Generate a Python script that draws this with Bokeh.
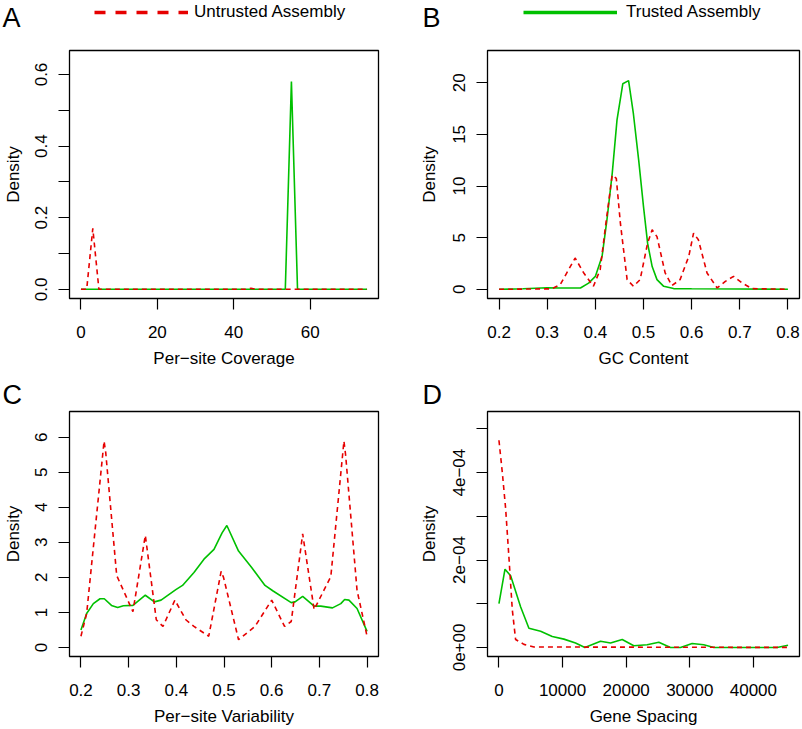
from bokeh.plotting import figure
from bokeh.models import Label, Legend, LegendItem, FixedTicker, PrintfTickFormatter, Range1d
from bokeh.layouts import row, column
from bokeh.embed import file_html
from bokeh.resources import INLINE

RED = "#E60000"
GREEN = "#00C000"
FONT = "Liberation Sans"
DASH = "5 4"
LW = 1.6

# ---------------- data ----------------
# A: Per-site Coverage
cov_x_trusted = [0, 53.5, 55.1, 56.7, 74.9]
cov_y_trusted = [0, 0, 0.58, 0, 0]
cov_x_untrusted = [0, 1.5, 3.1, 4.7, 43.0, 44.5, 46.0, 74.9]
cov_y_untrusted = [0, 0, 0.17, 0, 0, 0.003, 0, 0]

# B: GC Content
gc_x_trusted = [0.2, 0.25, 0.3, 0.327, 0.369, 0.386, 0.4, 0.414, 0.424, 0.435, 0.445, 0.457,
                0.469, 0.479, 0.49, 0.5, 0.5085, 0.518, 0.528, 0.542, 0.5625, 0.6, 0.7, 0.8]
gc_y_trusted = [0, 0.05, 0.15, 0.13, 0.13, 0.6, 1.25, 3.2, 6.7, 11.2, 16.4, 19.9,
                20.2, 17.0, 12.5, 8.0, 4.47, 2.2, 0.94, 0.29, 0.07, 0.05, 0.03, 0.0]
gc_x_untrusted = [0.2, 0.31, 0.327, 0.358, 0.376, 0.396, 0.41, 0.421, 0.435, 0.4435, 0.452, 0.466,
                  0.479, 0.493, 0.5085, 0.518, 0.528, 0.545, 0.559, 0.576, 0.594, 0.604, 0.614,
                  0.632, 0.653, 0.67, 0.687, 0.7045, 0.725, 0.8]
gc_y_untrusted = [0, 0.05, 0.45, 3.03, 1.58, 0.29, 1.9, 6.07, 11.06, 10.74, 6.4, 0.94,
                  0.29, 0.94, 4.47, 5.76, 5.1, 1.58, 0.36, 0.94, 3.18, 5.44, 4.79,
                  1.58, 0.13, 0.77, 1.25, 0.62, 0.07, 0.0]

# C: Per-site Variability
var_x_trusted = [0.2, 0.212, 0.226, 0.24, 0.249, 0.264, 0.277, 0.289, 0.309, 0.335, 0.354, 0.368,
                 0.399, 0.413, 0.437, 0.458, 0.479, 0.496, 0.506, 0.5305, 0.558, 0.586, 0.603,
                 0.641, 0.649, 0.665, 0.689, 0.703, 0.7275, 0.745, 0.753, 0.762, 0.779, 0.8]
var_y_trusted = [0.5, 0.97, 1.25, 1.39, 1.39, 1.2, 1.14, 1.19, 1.2, 1.49, 1.3, 1.35,
                 1.65, 1.77, 2.14, 2.52, 2.8, 3.27, 3.48, 2.75, 2.28, 1.77, 1.61,
                 1.28, 1.3, 1.46, 1.18, 1.18, 1.13, 1.25, 1.37, 1.35, 1.11, 0.46]
var_x_untrusted = [0.2, 0.212, 0.2485, 0.252, 0.275, 0.289, 0.309, 0.335, 0.358, 0.372, 0.397,
                   0.42, 0.437, 0.468, 0.494, 0.499, 0.5305, 0.565, 0.6, 0.627, 0.641, 0.665,
                   0.689, 0.724, 0.7515, 0.755, 0.779, 0.8]
var_y_untrusted = [0.32, 0.97, 5.89, 5.56, 2.05, 1.63, 1.02, 3.2, 0.79, 0.6, 1.35,
                   0.79, 0.6, 0.32, 2.17, 2.0, 0.22, 0.6, 1.35, 0.6, 0.74, 3.24,
                   1.08, 2.02, 5.89, 5.5, 1.63, 0.32]

# D: Gene Spacing (density in 1e-4 units)
gs_x_trusted = [0, 950, 1840, 3400, 4710, 6550, 8380, 10210, 12040, 13510, 15970, 17540,
                19380, 21200, 23300, 25130, 26970, 28540, 30370, 32200, 33770, 43720, 45450]
gs_y_trusted_e4 = [1.0, 1.79, 1.64, 0.93, 0.44, 0.37, 0.25, 0.19, 0.1, 0.0, 0.14, 0.1,
                   0.18, 0.04, 0.06, 0.12, 0.0, 0.0, 0.09, 0.06, 0.0, 0.0, 0.05]
gs_x_untrusted = [0, 530, 1050, 1570, 2100, 2620, 3930, 5500, 45450]
gs_y_untrusted_e4 = [4.74, 4.0, 3.18, 2.06, 0.86, 0.18, 0.07, 0.01, 0.0]

# tick values
ticks_cov_x = [0, 20, 40, 60]
ticks_cov_y = [0, 0.2, 0.4, 0.6]
minor_cov_y = [0.1, 0.3, 0.5]
ticks_frac_x = [0.2, 0.3, 0.4, 0.5, 0.6, 0.7, 0.8]
ticks_gc_y = [0, 5, 10, 15, 20]
ticks_var_y = [0, 1, 2, 3, 4, 5, 6]
ticks_gs_x = [0, 10000, 20000, 30000, 40000]
ticks_gs_y = [0, 2e-4, 4e-4]
minor_gs_y = [1e-4, 3e-4, 5e-4]
labels_gs_y = {0: "0e+00", 2e-4: "2e\u221204", 4e-4: "4e\u221204"}

TOTAL_W = 801
LEFT_W, RIGHT_W = 400, 401
TOP_HDR_H, ROW1_H, MID_HDR_H, ROW2_H = 49, 321, 40, 318


def make_fig(width, height, bl, br, bt, bb, xr, yr, xlabel, s2y):
    p = figure(width=width, height=height, x_range=Range1d(*xr), y_range=Range1d(*yr),
               output_backend="svg", toolbar_location=None,
               min_border_left=bl, min_border_right=br, min_border_top=bt, min_border_bottom=bb)
    p.xgrid.visible = False
    p.ygrid.visible = False
    p.outline_line_color = "black"
    p.outline_line_width = 1.3
    p.outline_line_alpha = 1
    p.background_fill_color = "white"
    p.border_fill_color = "white"
    for ax in (p.xaxis[0], p.yaxis[0]):
        ax.axis_line_color = None
        ax.major_tick_out = 11
        ax.major_tick_in = 0
        ax.minor_tick_out = 11
        ax.minor_tick_in = 0
        ax.major_tick_line_color = "black"
        ax.minor_tick_line_color = "black"
        ax.major_tick_line_width = 1.2
        ax.minor_tick_line_width = 1.2
        ax.major_label_text_font = FONT
        ax.major_label_text_font_size = "17px"
        ax.major_label_text_color = "black"
        ax.axis_label_text_font = FONT
        ax.axis_label_text_font_size = "17px"
        ax.axis_label_text_font_style = "normal"
        ax.axis_label_text_color = "black"
    p.xaxis[0].major_label_standoff = 16
    p.xaxis[0].axis_label_standoff = 8
    p.yaxis[0].major_label_standoff = 11
    p.yaxis[0].axis_label_standoff = s2y
    p.yaxis[0].major_label_orientation = "parallel"
    p.xaxis[0].axis_label = xlabel
    p.yaxis[0].axis_label = "Density"
    return p


def make_header(height):
    h = figure(width=TOTAL_W, height=height, x_range=Range1d(0, 1), y_range=Range1d(0, 1),
               output_backend="svg", toolbar_location=None,
               x_axis_location=None, y_axis_location=None,
               min_border_left=0, min_border_right=0, min_border_top=0, min_border_bottom=0)
    h.xgrid.visible = False
    h.ygrid.visible = False
    h.outline_line_color = None
    h.background_fill_color = "white"
    h.border_fill_color = "white"
    return h


def add_letter(h, letter, x, y, baseline):
    h.add_layout(Label(x=x, y=y, x_units="screen", y_units="screen", text=letter,
                       text_font=FONT, text_font_size="27px", text_color="black",
                       text_baseline=baseline, text_align="left"))


def add_legend(h, label, color, dash, loc, standoff):
    # legend key proxy: kept outside the header's visible range, only its key is shown
    proxy = h.line(x=[-2, -1], y=[-2, -2], line_color=color, line_width=3.3, line_dash=dash)
    leg = Legend(items=[LegendItem(label=label, renderers=[proxy])], location=loc,
                 orientation="horizontal", padding=0, margin=0, spacing=0,
                 glyph_width=94, glyph_height=20, label_height=20, label_standoff=standoff,
                 label_text_font=FONT, label_text_font_size="17px", label_text_color="black",
                 border_line_color=None, background_fill_alpha=0)
    h.add_layout(leg, "center")


# ---- top header: panel letters A, B and legends ----
hdr_top = make_header(TOP_HDR_H)
add_letter(hdr_top, "A", 2, 32, "alphabetic")
add_letter(hdr_top, "B", 422, 32, "alphabetic")
add_legend(hdr_top, "Untrusted Assembly", RED, "11 10", (94, 27), 6)
add_legend(hdr_top, "Trusted Assembly", GREEN, "solid", (523, 27), 9)

# ---- A ----
pA = make_fig(LEFT_W, ROW1_H, 66, 22, 1, 71, (-3.0, 77.9), (-0.0257, 0.667), "Per\u2212site Coverage", 10)
pA.xaxis[0].ticker = FixedTicker(ticks=ticks_cov_x)
pA.xaxis[0].formatter = PrintfTickFormatter(format="%d")
pA.yaxis[0].ticker = FixedTicker(ticks=ticks_cov_y, minor_ticks=minor_cov_y)
pA.yaxis[0].formatter = PrintfTickFormatter(format="%.1f")
pA.line(cov_x_trusted, cov_y_trusted, line_color=GREEN, line_width=LW)
pA.line(cov_x_untrusted, cov_y_untrusted, line_color=RED, line_width=LW, line_dash=DASH)

# ---- B ----
pB = make_fig(RIGHT_W, ROW1_H, 87, 2, 1, 71, (0.176, 0.824), (-0.889, 23.12), "GC Content", 12)
pB.xaxis[0].ticker = FixedTicker(ticks=ticks_frac_x)
pB.xaxis[0].formatter = PrintfTickFormatter(format="%.1f")
pB.yaxis[0].ticker = FixedTicker(ticks=ticks_gc_y)
pB.yaxis[0].formatter = PrintfTickFormatter(format="%d")
pB.line(gc_x_trusted, gc_y_trusted, line_color=GREEN, line_width=LW)
pB.line(gc_x_untrusted, gc_y_untrusted, line_color=RED, line_width=LW, line_dash=DASH)

# ---- middle header: panel letters C, D ----
hdr_mid = make_header(MID_HDR_H)
add_letter(hdr_mid, "C", 2, 1, "bottom")
add_letter(hdr_mid, "D", 422, 1, "bottom")

# ---- C ----
pC = make_fig(LEFT_W, ROW2_H, 66, 22, 1, 68, (0.176, 0.824), (-0.259, 6.735), "Per\u2212site Variability", 10)
pC.xaxis[0].ticker = FixedTicker(ticks=ticks_frac_x)
pC.xaxis[0].formatter = PrintfTickFormatter(format="%.1f")
pC.yaxis[0].ticker = FixedTicker(ticks=ticks_var_y)
pC.yaxis[0].formatter = PrintfTickFormatter(format="%d")
pC.line(var_x_trusted, var_y_trusted, line_color=GREEN, line_width=LW)
pC.line(var_x_untrusted, var_y_untrusted, line_color=RED, line_width=LW, line_dash=DASH)

# ---- D ----
gs_y_trusted = [v * 1e-4 for v in gs_y_trusted_e4]
gs_y_untrusted = [v * 1e-4 for v in gs_y_untrusted_e4]
pD = make_fig(RIGHT_W, ROW2_H, 87, 2, 1, 68, (-1800, 47250), (-0.2076e-4, 5.398e-4), "Gene Spacing", 12)
pD.xaxis[0].ticker = FixedTicker(ticks=ticks_gs_x)
pD.xaxis[0].formatter = PrintfTickFormatter(format="%d")
pD.yaxis[0].ticker = FixedTicker(ticks=ticks_gs_y, minor_ticks=minor_gs_y)
pD.yaxis[0].major_label_overrides = labels_gs_y
pD.line(gs_x_trusted, gs_y_trusted, line_color=GREEN, line_width=LW)
pD.line(gs_x_untrusted, gs_y_untrusted, line_color=RED, line_width=LW, line_dash=DASH)

layout = column(hdr_top, row(pA, pB), hdr_mid, row(pC, pD))
open("out.html", "w").write(file_html(layout, INLINE))
